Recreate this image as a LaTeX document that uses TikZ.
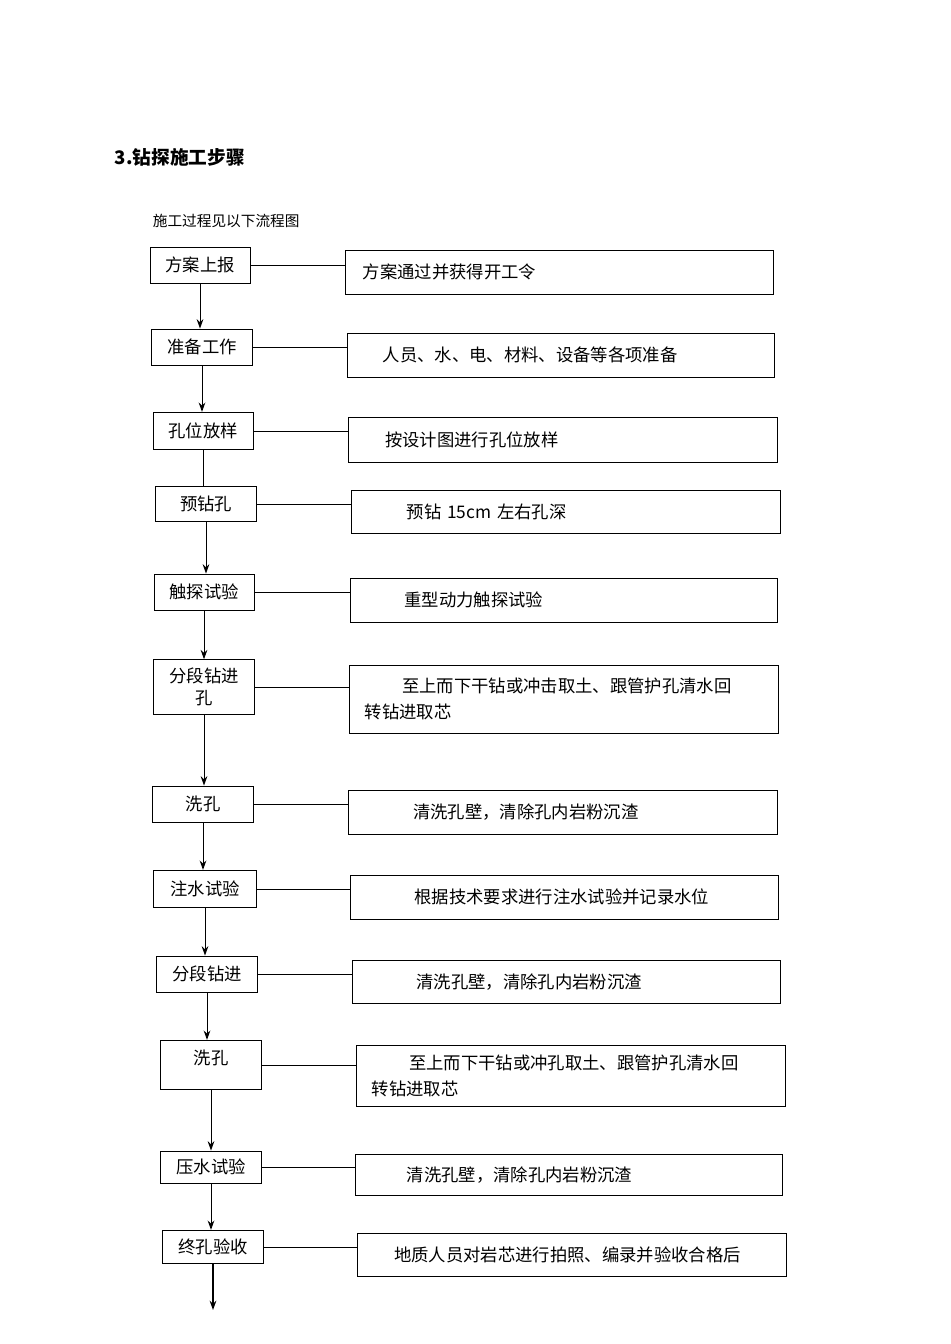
\documentclass[tikz,border=0pt]{standalone}
\usepackage{fontspec}
\setmainfont{Liberation Serif}
\newfontfamily\cjk{Noto Sans CJK SC}
\usetikzlibrary{arrows.meta}
\begin{document}
\begin{tikzpicture}[x=0.75pt,y=-0.75pt,>={Stealth[length=7pt,width=5pt]},line width=0.7pt]
    \tikzstyle{stepbox}=[draw=black, rectangle, inner sep=0pt, font=\cjk\fontsize{13}{16}\selectfont]
    \tikzstyle{notebox}=[draw=black, rectangle, inner sep=0pt, anchor=west, text width=315pt, align=left, font=\cjk\fontsize{13}{19}\selectfont]
    \useasboundingbox (0,0) rectangle (950,1344);

    \node[anchor=west,font=\cjk\bfseries\fontsize{14}{16}\selectfont] (title) at (110,157) {3.钻探施工步骤};
    \node[anchor=west,font=\cjk\fontsize{11}{14}\selectfont] (intro) at (148,221) {施工过程见以下流程图};

    % left column
    \node[stepbox,minimum width=75pt,minimum height=27pt] (S1) at (200,265) {方案上报};
    \node[stepbox,minimum width=76pt,minimum height=27pt] (S2) at (202,347) {准备工作};
    \node[stepbox,minimum width=75pt,minimum height=28pt] (S3) at (203,431) {孔位放样};
    \node[stepbox,minimum width=76pt,minimum height=26pt] (S4) at (206,504) {预钻孔};
    \node[stepbox,minimum width=75pt,minimum height=27pt] (S5) at (204,592) {触探试验};
    \node[stepbox,minimum width=76pt,minimum height=41pt,text width=70pt,align=center] (S6) at (204,687) {分段钻进\\孔};
    \node[stepbox,minimum width=76pt,minimum height=27pt] (S7) at (203,804) {洗孔};
    \node[stepbox,minimum width=77pt,minimum height=28pt] (S8) at (205,889) {注水试验};
    \node[stepbox,minimum width=76pt,minimum height=27pt] (S9) at (207,974) {分段钻进};
    \node[stepbox,minimum width=76pt,minimum height=37pt] (S10) at (211,1065) {\raisebox{12pt}{洗孔}};
    \node[stepbox,minimum width=76pt,minimum height=24pt] (S11) at (211,1167) {压水试验};
    \node[stepbox,minimum width=76pt,minimum height=25pt] (S12) at (213,1247) {终孔验收};
    \coordinate (end) at (218,1310);

    % right column
    \node[notebox,minimum width=321pt,minimum height=33pt] (N1) at (345,272) {\hspace*{10pt}方案通过并获得开工令};
    \node[notebox,minimum width=320pt,minimum height=33pt] (N2) at (347,355) {\hspace*{24pt}人员、水、电、材料、设备等各项准备};
    \node[notebox,minimum width=322pt,minimum height=34pt] (N3) at (348,440) {\hspace*{24pt}按设计图进行孔位放样};
    \node[notebox,minimum width=322pt,minimum height=32pt] (N4) at (351,512) {\hspace*{38pt}预钻 15cm 左右孔深};
    \node[notebox,minimum width=320pt,minimum height=33pt] (N5) at (350,600) {\hspace*{38pt}重型动力触探试验};
    \node[notebox,minimum width=322pt,minimum height=51pt] (N6) at (349,699) {\hspace*{36pt}至上而下干钻或冲击取土、跟管护孔清水回\\\hspace*{8pt}转钻进取芯\\[10pt]};
    \node[notebox,minimum width=322pt,minimum height=33pt] (N7) at (348,812) {\hspace*{45pt}清洗孔壁，清除孔内岩粉沉渣};
    \node[notebox,minimum width=321pt,minimum height=33pt] (N8) at (350,897) {\hspace*{45pt}根据技术要求进行注水试验并记录水位};
    \node[notebox,minimum width=321pt,minimum height=32pt] (N9) at (352,982) {\hspace*{45pt}清洗孔壁，清除孔内岩粉沉渣};
    \node[notebox,minimum width=322pt,minimum height=46pt] (N10) at (356,1076) {\hspace*{36pt}至上而下干钻或冲孔取土、跟管护孔清水回\\\hspace*{8pt}转钻进取芯\\[4pt]};
    \node[notebox,minimum width=320pt,minimum height=31pt] (N11) at (355,1175) {\hspace*{36pt}清洗孔壁，清除孔内岩粉沉渣};
    \node[notebox,minimum width=322pt,minimum height=32pt] (N12) at (357,1255) {\hspace*{24pt}地质人员对岩芯进行拍照、编录并验收合格后};

    % flow
    \foreach \a/\b in {S1/S2,S2/S3,S4/S5,S5/S6,S6/S7,S7/S8,S8/S9,S9/S10,S10/S11,S11/S12}
      \draw[->] (\a.south) -- (\a.south |- \b.north);
    \draw (S3.south) -- (S3.south |- S4.north);
    \draw[->,line width=1.2pt] (S12.south) -- (S12.south |- end);

    % links
    \foreach \i in {1,...,12}
      \draw[line width=0.5pt] (S\i.east) -- (S\i.east -| N\i.west);
\end{tikzpicture}
\end{document}
